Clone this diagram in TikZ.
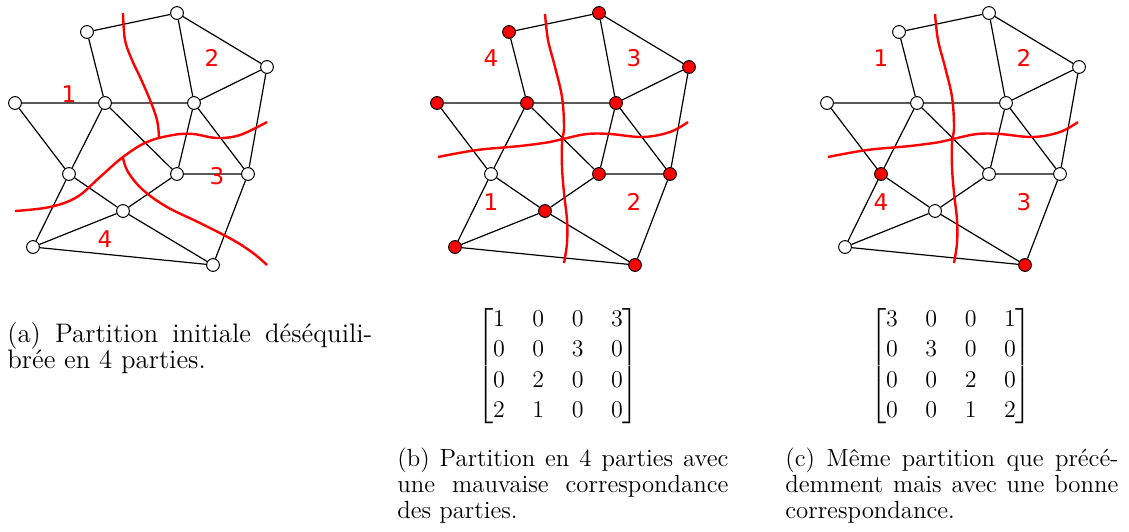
\documentclass[tikz,border=0pt]{standalone}
\usepackage{amsmath}
\usepackage{fontspec}
\newfontfamily\lblfont{DejaVu Sans}
\newcommand\capsize{\fontsize{12.4}{13}\selectfont}
\newcommand\capasize{\fontsize{13.4}{13}\selectfont}
\tikzset{
  vtx/.style={circle, draw=black, fill=white, line width=0.5pt, minimum size=6.4pt, inner sep=0pt},
  edge/.style={line width=0.6pt},
  cutline/.style={red, line width=1.2pt},
  lbl/.style={text=red, font=\lblfont\fontsize{11.5}{12}\selectfont, inner sep=0pt},
  captext/.style={anchor=base west, inner sep=0pt, font=\capsize},
  sA/.style={}, sB/.style={}, sC/.style={}, sD/.style={}, sE/.style={}, sF/.style={},
  sG/.style={}, sH/.style={}, sI/.style={}, sJ/.style={}, sK/.style={}, sL/.style={},
}
\newcommand\netnodes[1]{%
  \node[vtx,sA] (#1A) at (177,13) {};
  \node[vtx,sB] (#1B) at (87,32) {};
  \node[vtx,sC] (#1C) at (267,67) {};
  \node[vtx,sD] (#1D) at (15,103) {};
  \node[vtx,sE] (#1E) at (105,103) {};
  \node[vtx,sF] (#1F) at (194,103) {};
  \node[vtx,sG] (#1G) at (69,174) {};
  \node[vtx,sH] (#1H) at (177,174) {};
  \node[vtx,sI] (#1I) at (248,174) {};
  \node[vtx,sJ] (#1J) at (123,211) {};
  \node[vtx,sK] (#1K) at (33,247) {};
  \node[vtx,sL] (#1L) at (213,265) {};
  \draw[edge] (#1A)--(#1B) (#1A)--(#1C) (#1A)--(#1F) (#1B)--(#1E) (#1D)--(#1E)
    (#1E)--(#1F) (#1F)--(#1C) (#1C)--(#1I) (#1D)--(#1G) (#1E)--(#1G) (#1E)--(#1H)
    (#1F)--(#1H) (#1F)--(#1I) (#1H)--(#1I) (#1G)--(#1J) (#1H)--(#1J) (#1G)--(#1K)
    (#1K)--(#1J) (#1J)--(#1L) (#1K)--(#1L) (#1I)--(#1L);
}
\newcommand\crosscuts{%
  \draw[cutline] plot[smooth, tension=0.6] coordinates {(123,14) (126,40) (133,67) (140,97) (142,127) (140,143) (140,167) (142,193) (145,220) (145,243) (142,263)};
  \draw[cutline] plot[smooth, tension=0.6] coordinates {(16,157) (55,150) (98,146) (128,142) (141,139) (165,134) (188,134) (221,137) (248,132) (266,122)};
}
\begin{document}
\begin{tikzpicture}[x=0.5pt, y=-0.5pt]
\useasboundingbox (0,0) rectangle (1129,531);

% (a)
\begin{scope}
  \netnodes{a}
  \draw[cutline] plot[smooth, tension=0.6] coordinates {(123,13) (125,40) (132,60) (140,77) (150,100) (157,120) (159,137)};
  \draw[cutline] plot[smooth, tension=0.6] coordinates {(15,211) (50,207) (77,197) (100,177) (123,157) (147,142) (173,135) (193,134) (217,138) (240,135) (267,122)};
  \draw[cutline] plot[smooth, tension=0.6] coordinates {(123,158) (128,172) (143,190) (167,207) (200,223) (233,240) (253,253) (267,265)};
  \node[lbl] (a1) at (69,94) {1};
  \node[lbl] (a2) at (212,58) {2};
  \node[lbl] (a3) at (217,176) {3};
  \node[lbl] (a4) at (105,239) {4};
\end{scope}

% (b)
\begin{scope}[shift={(422,0)},
  sA/.style={fill=red}, sB/.style={fill=red}, sC/.style={fill=red}, sD/.style={fill=red},
  sE/.style={fill=red}, sF/.style={fill=red}, sH/.style={fill=red}, sI/.style={fill=red},
  sJ/.style={fill=red}, sK/.style={fill=red}, sL/.style={fill=red}]
  \netnodes{b}
  \crosscuts
  \node[lbl] (b4) at (69,58) {4};
  \node[lbl] (b3) at (212,58) {3};
  \node[lbl] (b1) at (69,202) {1};
  \node[lbl] (b2) at (212,202) {2};
\end{scope}

% (c)
\begin{scope}[shift={(812,0)}, sG/.style={fill=red}, sL/.style={fill=red}]
  \netnodes{c}
  \crosscuts
  \node[lbl] (c1) at (69,58) {1};
  \node[lbl] (c2) at (212,58) {2};
  \node[lbl] (c4) at (69,202) {4};
  \node[lbl] (c3) at (212,202) {3};
\end{scope}

% matrices
\node[font=\capsize, inner sep=0pt] (mb) at (558,366)
  {\setlength\arraycolsep{6.9pt}\renewcommand\arraystretch{1.17}%
   $\begin{bmatrix}1&0&0&3\\0&0&3&0\\0&2&0&0\\2&1&0&0\end{bmatrix}$};
\node[font=\capsize, inner sep=0pt] (mc) at (951,366)
  {\setlength\arraycolsep{6.9pt}\renewcommand\arraystretch{1.17}%
   $\begin{bmatrix}3&0&0&1\\0&3&0&0\\0&0&2&0\\0&0&1&2\end{bmatrix}$};

% captions
\node[captext, font=\capasize] (capa) at (7,342)
  {\parbox[t]{182.5pt}{\tolerance=10000\hbadness=10000\noindent
   (a) Partition initiale déséquili-\linebreak brée en 4 parties.}};
\node[captext] (capb) at (397,466)
  {\parbox[t]{165.5pt}{\tolerance=10000\hbadness=10000\noindent
   (b) Partition en 4 parties avec\linebreak une mauvaise correspondance\linebreak des parties.}};
\node[captext] (capc) at (785,466)
  {\parbox[t]{166.5pt}{\tolerance=10000\hbadness=10000\noindent
   (c) Même partition que précé-\linebreak demment mais avec une bonne\linebreak correspondance.}};
\end{tikzpicture}
\end{document}
